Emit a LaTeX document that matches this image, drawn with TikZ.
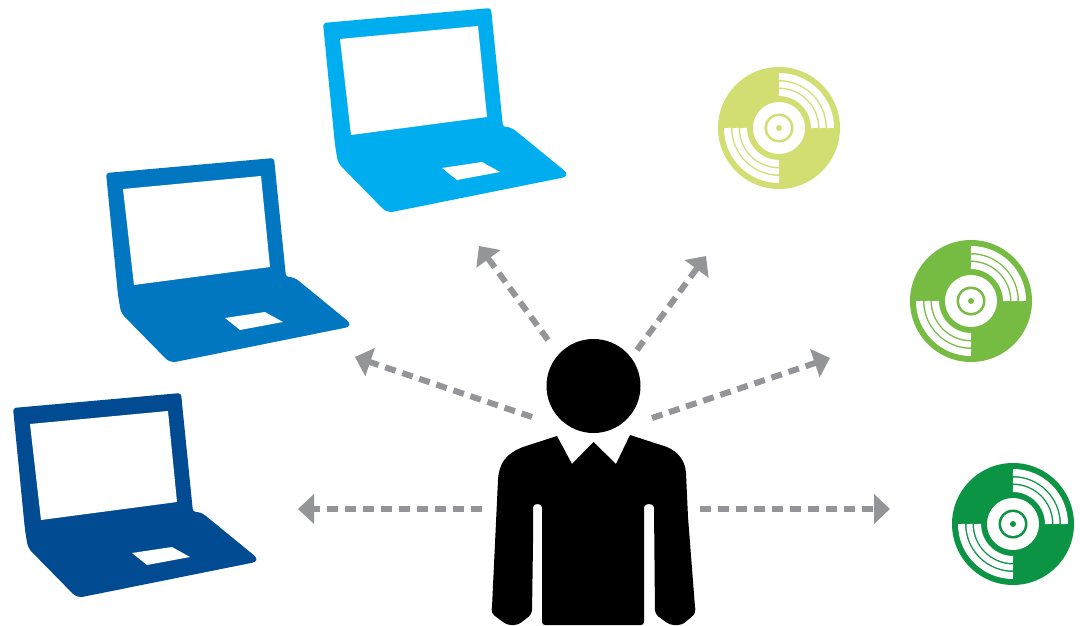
\documentclass[tikz,border=0pt]{standalone}
\usetikzlibrary{arrows.meta}

\definecolor{lightblue}{HTML}{00AEEF}
\definecolor{midblue}{HTML}{0077C0}
\definecolor{darkblue}{HTML}{004B91}
\definecolor{palegreen}{HTML}{D2DE72}
\definecolor{midgreen}{HTML}{76BC43}
\definecolor{darkgreen}{HTML}{0A9444}
\definecolor{arrowgray}{HTML}{939598}

\begin{document}
\begin{tikzpicture}[
        x = 1pt, y = -1pt,
        line/.style = {draw=arrowgray, line width=6pt, dash pattern=on 11pt off 7pt, -{Triangle[length=16pt,width=29pt]}},
        band/.style = {draw=white, line width=#1},
        laptop/.pic = {
            \fill [#1, rounded corners=3pt] (13,23) -- (181,8) -- (193,127) [rounded corners=5pt] -- (201,127)
                [rounded corners=9pt] -- (261,176) [rounded corners=6pt] -- (77,213) [rounded corners=5pt] -- (28,163)
                -- (25,145) [rounded corners=3pt] -- cycle;
            \fill [white] (30,39) -- (168,26) -- (177,117) -- (41,135) -- cycle;
            \fill [white] (132,168) -- (172,162) -- (190,172) -- (147,180) -- cycle;
        },
        disc/.pic = {
            \fill [#1] (0,0) circle [radius=61pt];
            \foreach \rad/\wid in {51.5/7, 43.5/6, 35.5/7} {
                \draw [band=\wid pt] (\rad pt,0) arc [start angle=0, end angle=90, radius=\rad pt];
                \draw [band=\wid pt] (-\rad pt,0) arc [start angle=180, end angle=270, radius=\rad pt];
            }
            \fill [white] (0,0) circle [radius=26pt];
            \fill [#1] (0,0) circle [radius=14.5pt];
            \fill [white] (0,0) circle [radius=12pt];
            \fill [#1] (0,0) circle [radius=3pt];
        }
    ]
    \useasboundingbox (0,0) rectangle (1080,626);

    % Laptops
    \pic (laptopA) at (310,0) {laptop=lightblue};
    \pic (laptopB) at (93,150) {laptop=midblue};
    \pic (laptopC) at (0,385) {laptop=darkblue};

    % Discs
    \pic (discA) at (779,128) {disc=palegreen};
    \pic (discB) at (971,301) {disc=midgreen};
    \pic (discC) at (1013,524) {disc=darkgreen};

    % Person
    \fill (593.5,386) circle [radius=47pt];
    \fill (557,436) -- (523,447) .. controls (505,454) and (499,464) .. (498,480) -- (492,607)
        [rounded corners=4pt] -- (491,613) -- (507,625) -- (518,625) -- (532,614) [sharp corners] -- (533,543) -- (533,507)
        .. controls (534,503) and (541,503) .. (542,507) [rounded corners=3pt] -- (542,625) -- (644,625) [sharp corners] -- (644,507)
        .. controls (645,503) and (653,503) .. (654,507) [rounded corners=4pt] -- (655,614) -- (670,625) -- (682,625) -- (696,613)
        [sharp corners] -- (695,607) -- (688,517) -- (686,473) .. controls (685,460) and (678,452) .. (667,447)
        -- (630,435) -- (616,464) -- (593.5,442) -- (572,464) -- cycle;

    % Coordinates
    \coordinate (fromW) at (482,509);
    \coordinate (toW) at (298,509);
    \coordinate (fromWN) at (532,417);
    \coordinate (toWN) at (355,357);
    \coordinate (fromNW) at (548,340);
    \coordinate (toNW) at (479,246);
    \coordinate (fromNE) at (637,350);
    \coordinate (toNE) at (706,256);
    \coordinate (fromEN) at (652,418);
    \coordinate (toEN) at (830,358);
    \coordinate (fromE) at (700,509);
    \coordinate (toE) at (890,509);

    % Lines
    \path [line] (fromW) -- (toW);
    \path [line] (fromWN) -- (toWN);
    \path [line] (fromNW) -- (toNW);
    \path [line] (fromNE) -- (toNE);
    \path [line] (fromEN) -- (toEN);
    \path [line] (fromE) -- (toE);
\end{tikzpicture}
\end{document}
